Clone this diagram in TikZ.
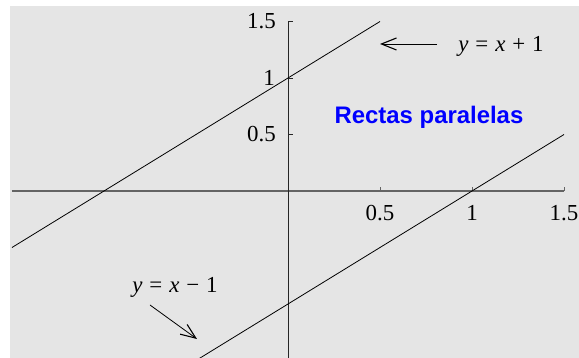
\documentclass[tikz,border=0pt]{standalone}
\usepackage{fontspec}
\setmainfont{Liberation Serif}
\newfontfamily\labelsans{Liberation Sans}
\usetikzlibrary{arrows.meta}
\definecolor{bggray}{RGB}{229,229,229}
\definecolor{axisgray}{RGB}{100,100,100}
\definecolor{titleblue}{RGB}{0,0,255}
\newcommand{\eqsp}{\hspace{0.3em}}
\tikzset{
  plotline/.style={line width=0.8bp, black},
  xaxisline/.style={line width=1.4bp, axisgray},
  yaxisline/.style={line width=0.9bp, black!85},
  ticklabel/.style={inner sep=0pt, font=\fontsize{23}{25}\selectfont},
  eqlabel/.style={inner sep=0pt, font=\fontsize{23}{25}\selectfont},
  pointer/.style={line width=0.8bp, -{Straight Barb[length=15bp,width=12bp,line width=1.1bp]}},
}
\begin{document}
\begin{tikzpicture}[x=184bp,y=113bp]
\useasboundingbox (-288bp,-167bp) rectangle (291bp,191bp);
\fill[bggray] (-278bp,-167bp) rectangle (291bp,185bp);
\begin{scope}
\clip (-278bp,-167bp) rectangle (291bp,185bp);
% axes
\draw[xaxisline] (-1.5,0) -- (1.5,0);
\draw[yaxisline] (0,-1.6) -- (0,1.5);
% ticks
\foreach \t in {0.5,1,1.5}{
  \draw[xaxisline, line width=0.8bp] (\t,0) -- ++(0,3.5bp);
  \draw[yaxisline, line width=0.8bp] (0,\t) -- ++(4.5bp,0);
}
% lines
\draw[plotline] (-1.5,-0.5) -- (0.5,1.5);
\draw[plotline] (-0.6,-1.6) -- (1.5,0.5);
\end{scope}
% tick labels
\node[ticklabel] (x05) at (0.5,-22bp) {0.5};
\node[ticklabel] (x10) at (1,-22bp) {1};
\node[ticklabel] (x15) at (1.5,-22bp) {1.5};
\node[ticklabel, anchor=east] (y05) at (-12bp,0.5) {0.5};
\node[ticklabel, anchor=east] (y10) at (-13bp,1) {1};
\node[ticklabel, anchor=east] (y15) at (-12bp,1.5) {1.5};
% labels
\node[inner sep=0pt, text=titleblue, font=\labelsans\bfseries\fontsize{24}{26}\selectfont] (title) at (141bp,74bp) {Rectas paralelas};
\node[eqlabel] (eqa) at (213bp,145bp) {\textit{y}\eqsp=\eqsp\textit{x}\eqsp+\eqsp1};
\node[eqlabel] (eqb) at (-113bp,-96bp) {\textit{y}\eqsp=\eqsp\textit{x}\eqsp−\eqsp1};
% pointers
\coordinate (pa) at (149bp,147bp);
\coordinate (pae) at (92bp,147bp);
\coordinate (pb) at (-138bp,-114bp);
\coordinate (pbe) at (-91bp,-148bp);
\draw[pointer] (pa) -- (pae);
\draw[pointer] (pb) -- (pbe);
\end{tikzpicture}
\end{document}
